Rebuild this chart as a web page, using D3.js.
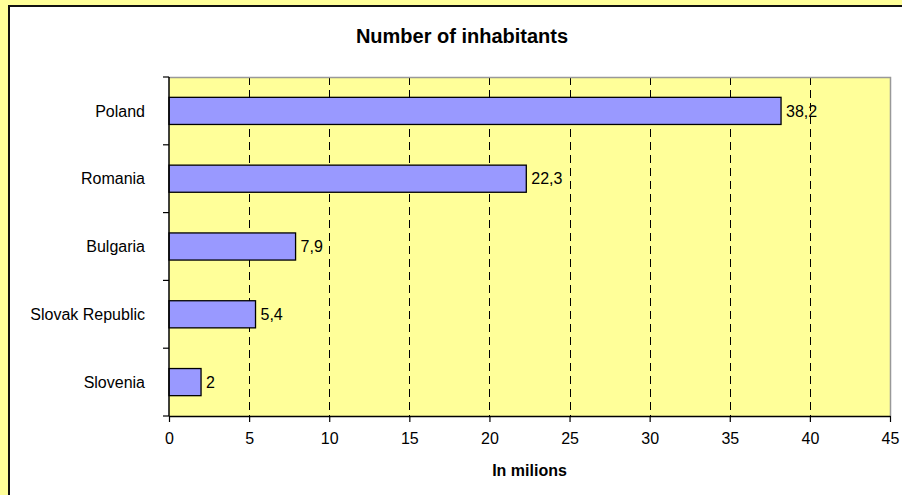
<!DOCTYPE html>
<html>
<head>
<meta charset="utf-8">
<script src="https://cdn.jsdelivr.net/npm/d3@7/dist/d3.min.js"></script>
<style>
  html, body { margin: 0; padding: 0; background: #FFFF99; }
  svg { display: block; }
  text { font-family: "Liberation Sans", Arial, sans-serif; fill: #000; }
</style>
</head>
<body>
<svg id="chart" width="902" height="495"></svg>
<script>
// Population by country (millions)
const countries = ["Poland", "Romania", "Bulgaria", "Slovak Republic", "Slovenia"];
const inhabitants = [38.2, 22.3, 7.9, 5.4, 2];
const xTicks = [0, 5, 10, 15, 20, 25, 30, 35, 40, 45];
const chartTitle = "Number of inhabitants";
const xAxisTitle = "In milions";

const svg = d3.select("#chart");
const W = 902, H = 495;

// Chart area: white panel with a dark frame
svg.append("rect")
  .attr("x", 9).attr("y", 6)
  .attr("width", 1000).attr("height", 1000)
  .attr("fill", "#FFFFFF")
  .attr("stroke", "#111").attr("stroke-width", 2);

const plot = { left: 169, top: 77, right: 890, bottom: 416 };

const x = d3.scaleLinear().domain([0, 45]).range([plot.left, plot.right]);
const y = d3.scaleBand().domain(countries).range([plot.top, plot.bottom])
  .paddingInner(0.6).paddingOuter(0.3);
const yEdges = d3.scaleBand().domain(countries).range([plot.top, plot.bottom]);

// Plot background
svg.append("rect")
  .attr("x", plot.left).attr("y", plot.top)
  .attr("width", plot.right - plot.left).attr("height", plot.bottom - plot.top)
  .attr("fill", "#FFFF99");

// Dashed vertical gridlines
svg.append("g").selectAll("line")
  .data(xTicks.filter(t => t > 0 && t < 45))
  .join("line")
  .attr("x1", d => Math.round(x(d)) + 0.5).attr("x2", d => Math.round(x(d)) + 0.5)
  .attr("y1", plot.top).attr("y2", plot.bottom)
  .attr("stroke", "#000").attr("stroke-width", 1)
  .attr("stroke-dasharray", "8,5");

// Plot frame (top and right sides)
svg.append("path")
  .attr("d", `M${plot.left},${plot.top + 0.5}H${plot.right + 0.5}V${plot.bottom}`)
  .attr("fill", "none").attr("stroke", "#999").attr("stroke-width", 1.5);

// Bars
const values = countries.map((c, i) => ({ country: c, value: inhabitants[i] }));
svg.append("g").selectAll("rect")
  .data(values)
  .join("rect")
  .attr("x", x(0))
  .attr("y", d => y(d.country))
  .attr("width", d => x(d.value) - x(0))
  .attr("height", y.bandwidth())
  .attr("fill", "#9999FF")
  .attr("stroke", "#000").attr("stroke-width", 1.3);

// Value labels
svg.append("g").selectAll("text")
  .data(values)
  .join("text")
  .attr("x", d => x(d.value) + 5)
  .attr("y", d => y(d.country) + y.bandwidth() / 2)
  .attr("dy", "0.35em")
  .attr("font-size", 16)
  .text(d => String(d.value).replace(".", ","));

// X axis
const xAxis = svg.append("g")
  .attr("transform", `translate(0,${plot.bottom})`)
  .call(d3.axisBottom(x).tickValues(xTicks).tickSize(6).tickPadding(11).tickSizeOuter(0));
xAxis.select(".domain").attr("stroke", "#000").attr("stroke-width", 1.5);
xAxis.selectAll(".tick line").attr("stroke", "#000").attr("stroke-width", 1.2);
xAxis.selectAll(".tick text")
  .attr("font-size", 16)
  .attr("font-family", "Liberation Sans, Arial, sans-serif");

// Y axis: line with ticks at category boundaries
svg.append("line")
  .attr("x1", plot.left).attr("x2", plot.left)
  .attr("y1", plot.top).attr("y2", plot.bottom)
  .attr("stroke", "#000").attr("stroke-width", 1.5);
const boundaries = countries.map(c => yEdges(c)).concat([plot.bottom]);
svg.append("g").selectAll("line")
  .data(boundaries)
  .join("line")
  .attr("x1", plot.left - 6).attr("x2", plot.left)
  .attr("y1", d => d).attr("y2", d => d)
  .attr("stroke", "#000").attr("stroke-width", 1.2);

// Category labels
svg.append("g").selectAll("text")
  .data(countries)
  .join("text")
  .attr("x", plot.left - 24)
  .attr("y", d => y(d) + y.bandwidth() / 2)
  .attr("dy", "0.35em")
  .attr("text-anchor", "end")
  .attr("font-size", 16)
  .text(d => d);

// Titles
svg.append("text")
  .attr("x", 462).attr("y", 43)
  .attr("text-anchor", "middle")
  .attr("font-size", 20).attr("font-weight", "bold")
  .text(chartTitle);

svg.append("text")
  .attr("x", (plot.left + plot.right) / 2).attr("y", 476)
  .attr("text-anchor", "middle")
  .attr("font-size", 16).attr("font-weight", "bold")
  .text(xAxisTitle);
</script>
</body>
</html>
